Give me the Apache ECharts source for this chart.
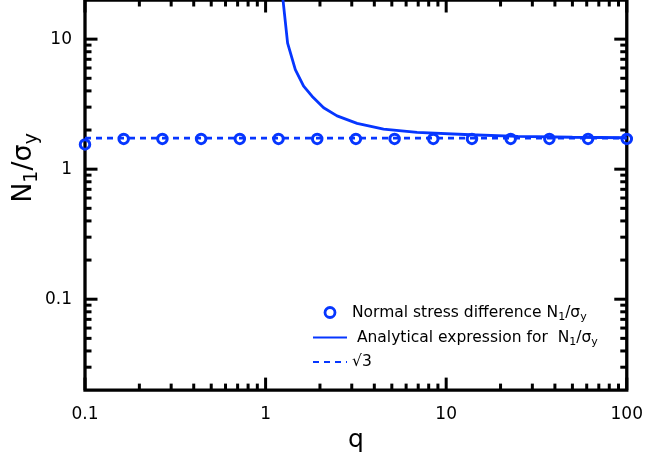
<!DOCTYPE html>
<html>
<head>
<meta charset="utf-8">
<script src="https://cdn.jsdelivr.net/npm/echarts@6/dist/echarts.min.js"></script>
<style>
html,body{margin:0;padding:0;background:#fff;}
#c{width:646px;height:458px;}
</style>
</head>
<body>
<div id="c"></div>
<script>
// ---- data ----
const qPoints = [0.1, 0.1638, 0.2683, 0.4394, 0.7197, 1.179, 1.931, 3.162, 5.179, 8.483, 13.89, 22.76, 37.28, 61.05, 100];
const n1Points = [1.55, 1.71, 1.71, 1.71, 1.71, 1.71, 1.71, 1.71, 1.71, 1.71, 1.71, 1.71, 1.71, 1.71, 1.71];
const qCurve = [1.2, 1.324, 1.461, 1.624, 1.807, 2.096, 2.487, 3.21, 4.50, 6.90, 13.6, 25, 50, 100];
const n1Curve = [33.5, 9.32, 5.83, 4.35, 3.64, 2.97, 2.57, 2.25, 2.03, 1.92, 1.84, 1.79, 1.76, 1.745];
const sqrt3Q = [0.1, 100];
const sqrt3Val = [1.732, 1.732];
const xMajorTicks = [0.1, 1, 10, 100];
const xMinorTicks = [0.2,0.3,0.4,0.5,0.6,0.7,0.8,0.9,2,3,4,5,6,7,8,9,20,30,40,50,60,70,80,90];
const yMajorTicks = [0.1, 1, 10];
const yMinorTicks = [0.03,0.04,0.05,0.06,0.07,0.08,0.09,0.2,0.3,0.4,0.5,0.6,0.7,0.8,0.9,2,3,4,5,6,7,8,9];
const xTickLabels = ['0.1', '1', '10', '100'];
const yTickLabels = ['0.1', '1', '10'];
const seriesNames = ['Normal stress difference N1/σy', 'Analytical expression for  N1/σy', '√3'];
const legendRich = ['Normal stress difference N{s|1}/σ{s|y}', ' Analytical expression for  N{s|1}/σ{s|y}', '√3'];

const BLUE = '#0636ff';
const FONT = 'DejaVu Sans';

const chart = echarts.init(document.getElementById('c'));

function tickLabel(labels) {
  return function (v) {
    const l = Math.log10(v);
    if (Math.abs(l - Math.round(l)) > 1e-6) return '';
    for (const s of labels) { if (Math.abs(Math.log10(parseFloat(s)) - l) < 1e-6) return s; }
    return '';
  };
}

function tickRender(isX) {
  return function (params, api) {
    const cs = params.coordSys;
    const major = api.value(2) === 1;
    const len = major ? 12.5 : 6.5;
    const st = { stroke: '#000', lineWidth: 3 };
    if (isX) {
      const px = api.coord([api.value(0), 1])[0];
      return { type: 'group', children: [
        { type: 'line', shape: { x1: px, y1: cs.y + cs.height, x2: px, y2: cs.y + cs.height - len }, style: st },
        { type: 'line', shape: { x1: px, y1: cs.y, x2: px, y2: cs.y + len }, style: st }
      ]};
    } else {
      const py = api.coord([1, api.value(1)])[1];
      return { type: 'group', children: [
        { type: 'line', shape: { x1: cs.x, y1: py, x2: cs.x + len, y2: py }, style: st },
        { type: 'line', shape: { x1: cs.x + cs.width, y1: py, x2: cs.x + cs.width - len, y2: py }, style: st }
      ]};
    }
  };
}

const xTickData = xMajorTicks.map(v => [v, 1, 1]).concat(xMinorTicks.map(v => [v, 1, 0]));
const yTickData = yMajorTicks.map(v => [1, v, 1]).concat(yMinorTicks.map(v => [1, v, 0]));

const subStyle = { fontSize: 11, fontFamily: FONT, color: '#000', verticalAlign: 'bottom', lineHeight: 21 };

chart.setOption({
  animation: false,
  backgroundColor: '#fff',
  grid: { left: 85, right: 18.7, top: -0.5, bottom: 63.7, show: true, borderColor: '#000', borderWidth: 3.3, backgroundColor: 'transparent' },
  xAxis: {
    type: 'log', logBase: 10, min: 0.1, max: 100,
    name: 'q', nameLocation: 'middle', nameGap: 22,
    nameTextStyle: { fontFamily: FONT, fontSize: 25, color: '#000' },
    axisLine: { show: false }, axisTick: { show: false }, splitLine: { show: false }, minorTick: { show: false },
    axisLabel: { margin: 16, fontFamily: FONT, fontSize: 17, color: '#000', formatter: tickLabel(xTickLabels) }
  },
  yAxis: {
    type: 'log', logBase: 10, min: 0.02, max: 20,
    axisLine: { show: false }, axisTick: { show: false }, splitLine: { show: false }, minorTick: { show: false },
    axisLabel: { margin: 13, fontFamily: FONT, fontSize: 17, color: '#000', formatter: tickLabel(yTickLabels) }
  },
  legend: {
    left: 307, top: 297, orient: 'vertical', itemWidth: 34, itemHeight: 10, itemGap: 4,
    textStyle: { fontFamily: FONT, fontSize: 15.5, color: '#000', lineHeight: 20,
      rich: { s: subStyle } },
    formatter: function (name) { return legendRich[seriesNames.indexOf(name)]; },
    data: [
      { name: seriesNames[0], icon: 'circle', itemStyle: { color: 'transparent', borderColor: BLUE, borderWidth: 2.8 } },
      { name: seriesNames[1], itemStyle: { opacity: 0 } },
      { name: seriesNames[2], itemStyle: { opacity: 0 } }
    ]
  },
  graphic: [{
    type: 'text', x: 24, y: 168, rotation: Math.PI / 2,
    style: { text: 'N{s|1}/σ{s|y}', fontFamily: FONT, fontSize: 27, fill: '#000', align: 'center', verticalAlign: 'middle',
      rich: { s: { fontSize: 19, fontFamily: FONT, fill: '#000', verticalAlign: 'bottom', lineHeight: 36 } }, lineHeight: 36 }
  }],
  series: [
    { type: 'custom', name: 'xticks', renderItem: tickRender(true), data: xTickData, encode: { x: 0, y: 1 }, z: 1, silent: true },
    { type: 'custom', name: 'yticks', renderItem: tickRender(false), data: yTickData, encode: { x: 0, y: 1 }, z: 1, silent: true },
    { type: 'line', name: seriesNames[2], data: sqrt3Q.map((q, i) => [q, sqrt3Val[i]]), showSymbol: false, symbol: 'none',
      lineStyle: { color: BLUE, width: 2.6, type: [6, 5] }, itemStyle: { color: BLUE }, z: 3 },
    { type: 'line', name: seriesNames[1], data: qCurve.map((q, i) => [q, n1Curve[i]]), showSymbol: false, symbol: 'none',
      lineStyle: { color: BLUE, width: 2.8 }, itemStyle: { color: BLUE }, z: 4 },
    { type: 'scatter', name: seriesNames[0], data: qPoints.map((q, i) => [q, n1Points[i]]), symbol: 'circle', symbolSize: 9.5,
      clip: false, itemStyle: { color: 'transparent', borderColor: BLUE, borderWidth: 3, opacity: 1 }, z: 5 }
  ]
});
</script>
</body>
</html>
